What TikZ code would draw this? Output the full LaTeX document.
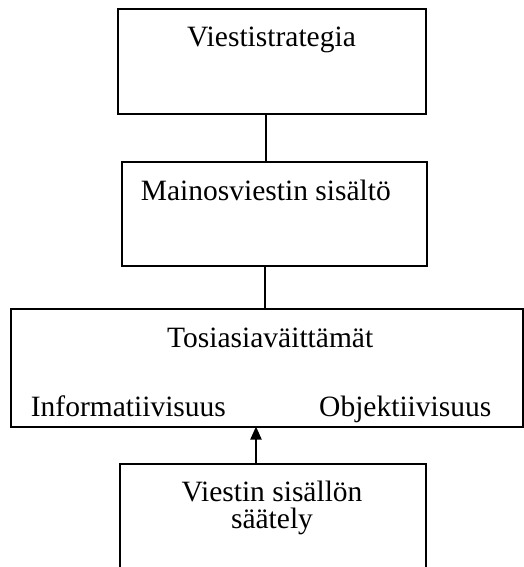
\documentclass[tikz,border=0pt]{standalone}
\usepackage{fontspec}
\setmainfont{Liberation Serif}
\usetikzlibrary{arrows.meta}
\begin{document}
\begin{tikzpicture}[x=1pt,y=-1pt,
  box/.style={draw=black, line width=2pt, outer sep=0pt, inner sep=0pt, fill=none},
  lbl/.style={inner sep=0pt, anchor=base west, font=\fontsize{29.5}{26.7}\selectfont},
  conn/.style={line width=2pt}]
\clip (0,0) rectangle (524,567);
\fill[white] (0,0) rectangle (524,567);
\node[box, minimum width=308pt, minimum height=105pt] (b1) at (272,61.5) {};
\node[box, minimum width=305pt, minimum height=104pt] (b2) at (274.5,214) {};
\node[box, minimum width=512pt, minimum height=118pt] (b3) at (267,367.5) {};
\node[box, minimum width=306pt, minimum height=136pt] (b4) at (273,532) {};
\node[lbl] (t1) at (187,47) {Viestistrategia};
\node[lbl] (t2) at (140.7,200) {Mainosviestin sisältö};
\node[lbl] (t3) at (167,347) {Tosiasiaväittämät};
\node[lbl] (t4) at (30.7,416) {Informatiivisuus};
\node[lbl] (t5) at (319,416) {Objektiivisuus};
\node[lbl, anchor=base, align=center] (t6) at (272,528.3) {Viestin sisällön\\säätely};
\draw[conn] ([xshift=-6pt]b1.south) -- ([xshift=-6pt]b1.south |- b2.north);
\draw[conn] ([xshift=-9.5pt]b2.south) -- ([xshift=-9.5pt]b2.south |- b3.north);
\draw[conn, -{Triangle[length=13pt,width=11pt]}] ([xshift=-17pt]b4.north) -- ([xshift=-17pt]b4.north |- b3.south);
\end{tikzpicture}
\end{document}
